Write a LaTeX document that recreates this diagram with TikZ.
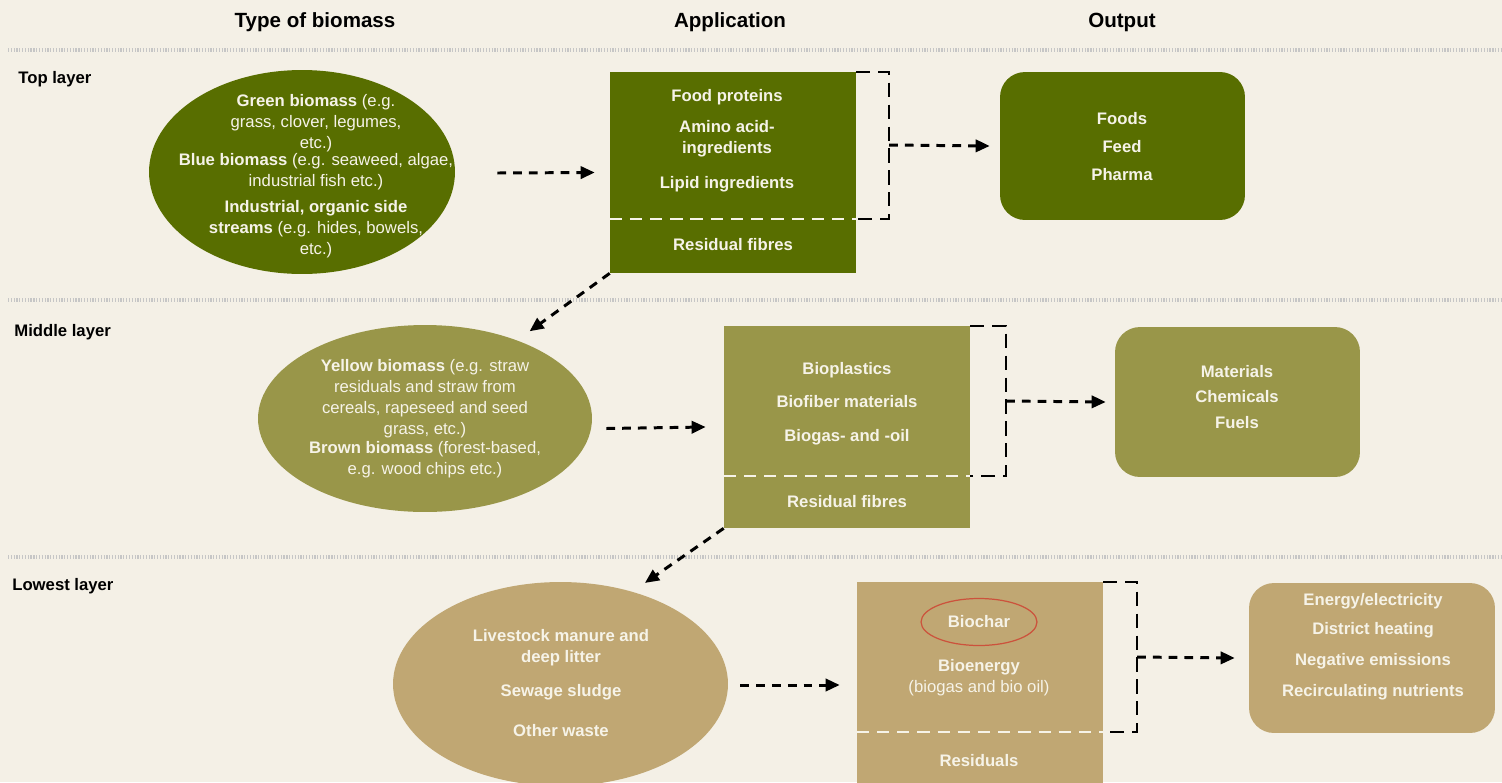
\documentclass[tikz,border=0pt]{standalone}
\usepackage{fontspec}
\setmainfont{Liberation Sans}
\usetikzlibrary{arrows.meta,positioning,shapes.geometric}

\definecolor{bgcream}{RGB}{244,240,230}
\definecolor{topgreen}{RGB}{88,110,0}
\definecolor{midolive}{RGB}{153,150,73}
\definecolor{lowtan}{RGB}{192,167,115}
\definecolor{lighttext}{RGB}{246,243,232}
\definecolor{charred}{RGB}{204,82,60}

\begin{document}
\begin{tikzpicture}[x=0.02cm,y=-0.02cm,
  every node/.style={font=\fontsize{9.5}{12}\selectfont},
  txt/.style={text=lighttext,align=center,inner sep=0pt},
  boldtxt/.style={txt,font=\fontsize{9.5}{12}\selectfont\bfseries},
  headtxt/.style={font=\fontsize{11.7}{14}\selectfont\bfseries,inner sep=0pt},
  layerlbl/.style={font=\fontsize{9.5}{12}\selectfont\bfseries,anchor=west,inner sep=0pt},
  biomass/.style={ellipse,fill=#1,inner sep=0pt},
  appbox/.style={rectangle,fill=#1,inner sep=0pt},
  outbox/.style={rectangle,rounded corners=0.5cm,fill=#1,inner sep=0pt},
  flowarrow/.style={line width=1.7pt,dash pattern=on 5pt off 4pt,-{Triangle[length=8pt,width=7pt]}},
  bracketline/.style={line width=1.1pt,dash pattern=on 8pt off 4.5pt},
  cutline/.style={lighttext,line width=1.2pt,dash pattern=on 7pt off 4.5pt},
  sepline/.style={gray!45,line width=2pt,dash pattern=on 0.7pt off 0.9pt}]

\clip (0,0) rectangle (1502,782);
\fill[bgcream] (0,0) rectangle (1502,782);

% column heads and layer separators
\node[headtxt] (hbio) at (315,22) {Type of biomass};
\node[headtxt] (happ) at (730,22) {Application};
\node[headtxt] (hout) at (1122,22) {Output};
\draw[sepline] (8,50) -- (1502,50);
\draw[sepline] (8,300) -- (1502,300);
\draw[sepline] (8,557) -- (1502,557);
\node[layerlbl] (ltop) at (18,79) {Top layer};
\node[layerlbl] (lmid) at (14,332) {Middle layer};
\node[layerlbl] (llow) at (12,586) {Lowest layer};

% top layer
\node[biomass=topgreen,minimum width=6.12cm,minimum height=4.08cm] (bio1) at (302,172) {};
\node[txt] (bio1txt) at (316,176) {\textbf{Green biomass} (e.g.\\ grass, clover, legumes,\\ etc.)\\[-2.3pt]
  \textbf{Blue biomass} (e.g. seaweed, algae,\\ industrial fish etc.)\\[2.8pt]
  \textbf{Industrial, organic side}\\ \textbf{streams} (e.g. hides, bowels,\\ etc.)};
\node[appbox=topgreen,minimum width=4.92cm,minimum height=4.02cm] (app1) at (733,172.5) {};
\coordinate (cut1) at (733,219);
\draw[cutline] (app1.west |- cut1) -- (app1.east |- cut1);
\node[boldtxt] (app1txt) at (727,140.5) {Food proteins\\[5.7pt] Amino acid-\\ ingredients\\[7.5pt] Lipid ingredients};
\node[boldtxt] (res1) at (733,245) {Residual fibres};
\node[outbox=topgreen,minimum width=4.9cm,minimum height=2.96cm] (out1) at (1122.5,146) {};
\node[boldtxt] (out1txt) at (1122,146.5) {Foods\\[3.9pt] Feed\\[4.4pt] Pharma};
\draw[flowarrow] ([shift={(42,1)}]bio1.east) -- ([xshift=-0.3cm]app1.west);
\draw[bracketline] (app1.north east) -- ++(33,0) |- (app1.east |- cut1);
\coordinate (fork1) at (889,145);
\draw[flowarrow] (fork1) -- ([xshift=-0.2cm]out1.west);

% middle layer
\node[biomass=midolive,minimum width=6.68cm,minimum height=3.74cm] (bio2) at (425,418.5) {};
\node[txt] (bio2txt) at (425,419) {\textbf{Yellow biomass} (e.g. straw\\ residuals and straw from\\ cereals, rapeseed and seed\\ grass, etc.)\\[-1.2pt]
  \textbf{Brown biomass} (forest-based,\\ e.g. wood chips etc.)};
\node[appbox=midolive,minimum width=4.92cm,minimum height=4.04cm] (app2) at (847,427) {};
\coordinate (cut2) at (847,476);
\draw[cutline] (app2.west |- cut2) -- (app2.east |- cut2);
\node[boldtxt] (app2txt) at (847,403.5) {Bioplastics\\[6.7pt] Biofiber materials\\[7.2pt] Biogas- and -oil};
\node[boldtxt] (res2) at (847,502) {Residual fibres};
\node[outbox=midolive,minimum width=4.9cm,minimum height=3cm] (out2) at (1237.5,402) {};
\node[boldtxt] (out2txt) at (1237,397) {Materials\\[2.7pt] Chemicals\\[2.7pt] Fuels};
\draw[flowarrow] (app1.south west) -- ([yshift=0.28cm]bio2.35);
\draw[flowarrow] ([shift={(14,10)}]bio2.east) -- ([xshift=-0.36cm]app2.west);
\draw[bracketline] (app2.north east) -- ++(36,0) |- (app2.east |- cut2);
\coordinate (fork2) at (1006,401);
\draw[flowarrow] (fork2) -- ([xshift=-0.18cm]out2.west);

% lowest layer
\node[biomass=lowtan,minimum width=6.7cm,minimum height=4.08cm] (bio3) at (560.5,684) {};
\node[boldtxt] (bio3txt) at (561,683) {Livestock manure and\\ deep litter\\[7.8pt] Sewage sludge\\[10.7pt] Other waste};
\node[appbox=lowtan,minimum width=4.92cm,minimum height=4.36cm] (app3) at (980,691) {};
\coordinate (cut3) at (980,732);
\draw[cutline] (app3.west |- cut3) -- (app3.east |- cut3);
\node[ellipse,draw=charred,line width=0.7pt,minimum width=2.32cm,minimum height=0.94cm,text=lighttext,font=\fontsize{9.5}{12}\selectfont\bfseries,inner sep=0pt] (biochar) at (979,622) {Biochar};
\node[txt] (bioen) at (979,678) {\textbf{Bioenergy}\\ (biogas and bio oil)};
\node[boldtxt] (res3) at (979,761) {Residuals};
\node[outbox=lowtan,minimum width=4.92cm,minimum height=3cm] (out3) at (1372,658) {};
\node[boldtxt] (out3txt) at (1373,646.5) {Energy/electricity\\[4.4pt] District heating\\[5.6pt] Negative emissions\\[5.6pt] Recirculating nutrients};
\draw[flowarrow] (app2.south west) -- ([shift={(8,-10)}]bio3.50);
\draw[flowarrow] ([shift={(12,1)}]bio3.east) -- ([shift={(-17,-6)}]app3.west);
\draw[bracketline] (app3.north east) -- ++(34,0) |- (app3.east |- cut3);
\coordinate (fork3) at (1137,657);
\draw[flowarrow] (fork3) -- ([xshift=-0.28cm]out3.west);
\end{tikzpicture}
\end{document}
